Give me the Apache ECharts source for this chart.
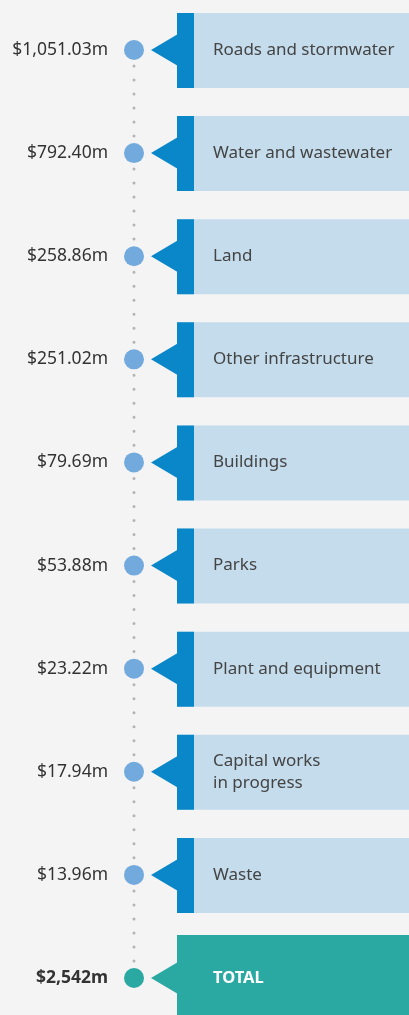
<!DOCTYPE html>
<html>
<head>
<meta charset="utf-8">
<script src="https://cdn.jsdelivr.net/npm/echarts@6/dist/echarts.min.js"></script>
<style>
  html, body { margin: 0; padding: 0; background: #f4f4f4; }
  #chart { width: 409px; height: 1015px; }
</style>
</head>
<body>
<div id="chart"></div>
<script>
// asset classes, top to bottom
const categories = [
  'Roads and stormwater',
  'Water and wastewater',
  'Land',
  'Other infrastructure',
  'Buildings',
  'Parks',
  'Plant and equipment',
  'Capital works\nin progress',
  'Waste',
  'TOTAL',
]
// value in $ millions
const values = [1051.03, 792.4, 258.86, 251.02, 79.69, 53.88, 23.22, 17.94, 13.96, 2542]
const totalIndex = categories.length - 1

const DOT = '#72aadd'
const STRIP = '#0a87c9'
const BOX = '#c4dcec'
const TEAL = '#2aa8a2'
const FONT = '"Noto Sans", sans-serif'

function fmt(v, i) {
  const digits = i === totalIndex ? 0 : 2
  return '$' + v.toLocaleString('en-US', { minimumFractionDigits: digits, maximumFractionDigits: digits }) + 'm'
}

function renderItem(params, api) {
  const i = params.dataIndex
  const y = api.coord([0, i])[1]
  const isTotal = i === totalIndex
  const children = []

  // dotted connector to the next row
  if (i < totalIndex) {
    const nextY = api.coord([0, i + 1])[1]
    children.push({
      type: 'line',
      shape: { x1: 134, y1: y + 16, x2: 134, y2: nextY - 11 },
      style: { stroke: '#b4b4b4', lineWidth: 3, lineDash: [0, 14], lineCap: 'round' },
    })
  }
  children.push({
    type: 'circle',
    shape: { cx: 134, cy: y, r: 10 },
    style: { fill: isTotal ? TEAL : DOT },
  })
  if (isTotal) {
    children.push({
      type: 'rect',
      shape: { x: 177, y: y - 43, width: 240, height: 120 },
      style: { fill: TEAL },
    })
  } else {
    children.push({
      type: 'rect',
      shape: { x: 177, y: y - 37, width: 240, height: 75 },
      style: { fill: BOX },
    })
    children.push({
      type: 'rect',
      shape: { x: 177, y: y - 37, width: 17, height: 75 },
      style: { fill: STRIP },
    })
  }
  children.push({
    type: 'polygon',
    shape: { points: [[151, y], [178, y - 16], [178, y + 16]] },
    style: { fill: isTotal ? TEAL : STRIP },
  })
  children.push({
    type: 'text',
    x: 213,
    y: y,
    style: {
      text: categories[i],
      fill: isTotal ? '#ffffff' : '#444444',
      font: isTotal ? 'bold 16.5px ' + FONT : '17px ' + FONT,
      lineHeight: 22,
      verticalAlign: 'middle',
      align: 'left',
    },
  })
  children.push({
    type: 'text',
    x: 108,
    y: y,
    style: {
      text: fmt(values[i], i),
      fill: '#333333',
      font: (isTotal ? 'bold ' : '') + '17.5px ' + FONT,
      verticalAlign: 'middle',
      align: 'right',
    },
  })
  return { type: 'group', children: children }
}

const chart = echarts.init(document.getElementById('chart'))
chart.setOption({
  backgroundColor: '#f4f4f4',
  animation: false,
  grid: { left: 0, right: 0, top: 50, bottom: 37 },
  xAxis: { type: 'value', min: 0, max: 1, show: false },
  yAxis: {
    type: 'category',
    data: categories,
    inverse: true,
    boundaryGap: false,
    show: false,
  },
  series: [
    {
      type: 'custom',
      renderItem: renderItem,
      clip: false,
      data: values.map((v, i) => [0, i]),
    },
  ],
})
</script>
</body>
</html>
